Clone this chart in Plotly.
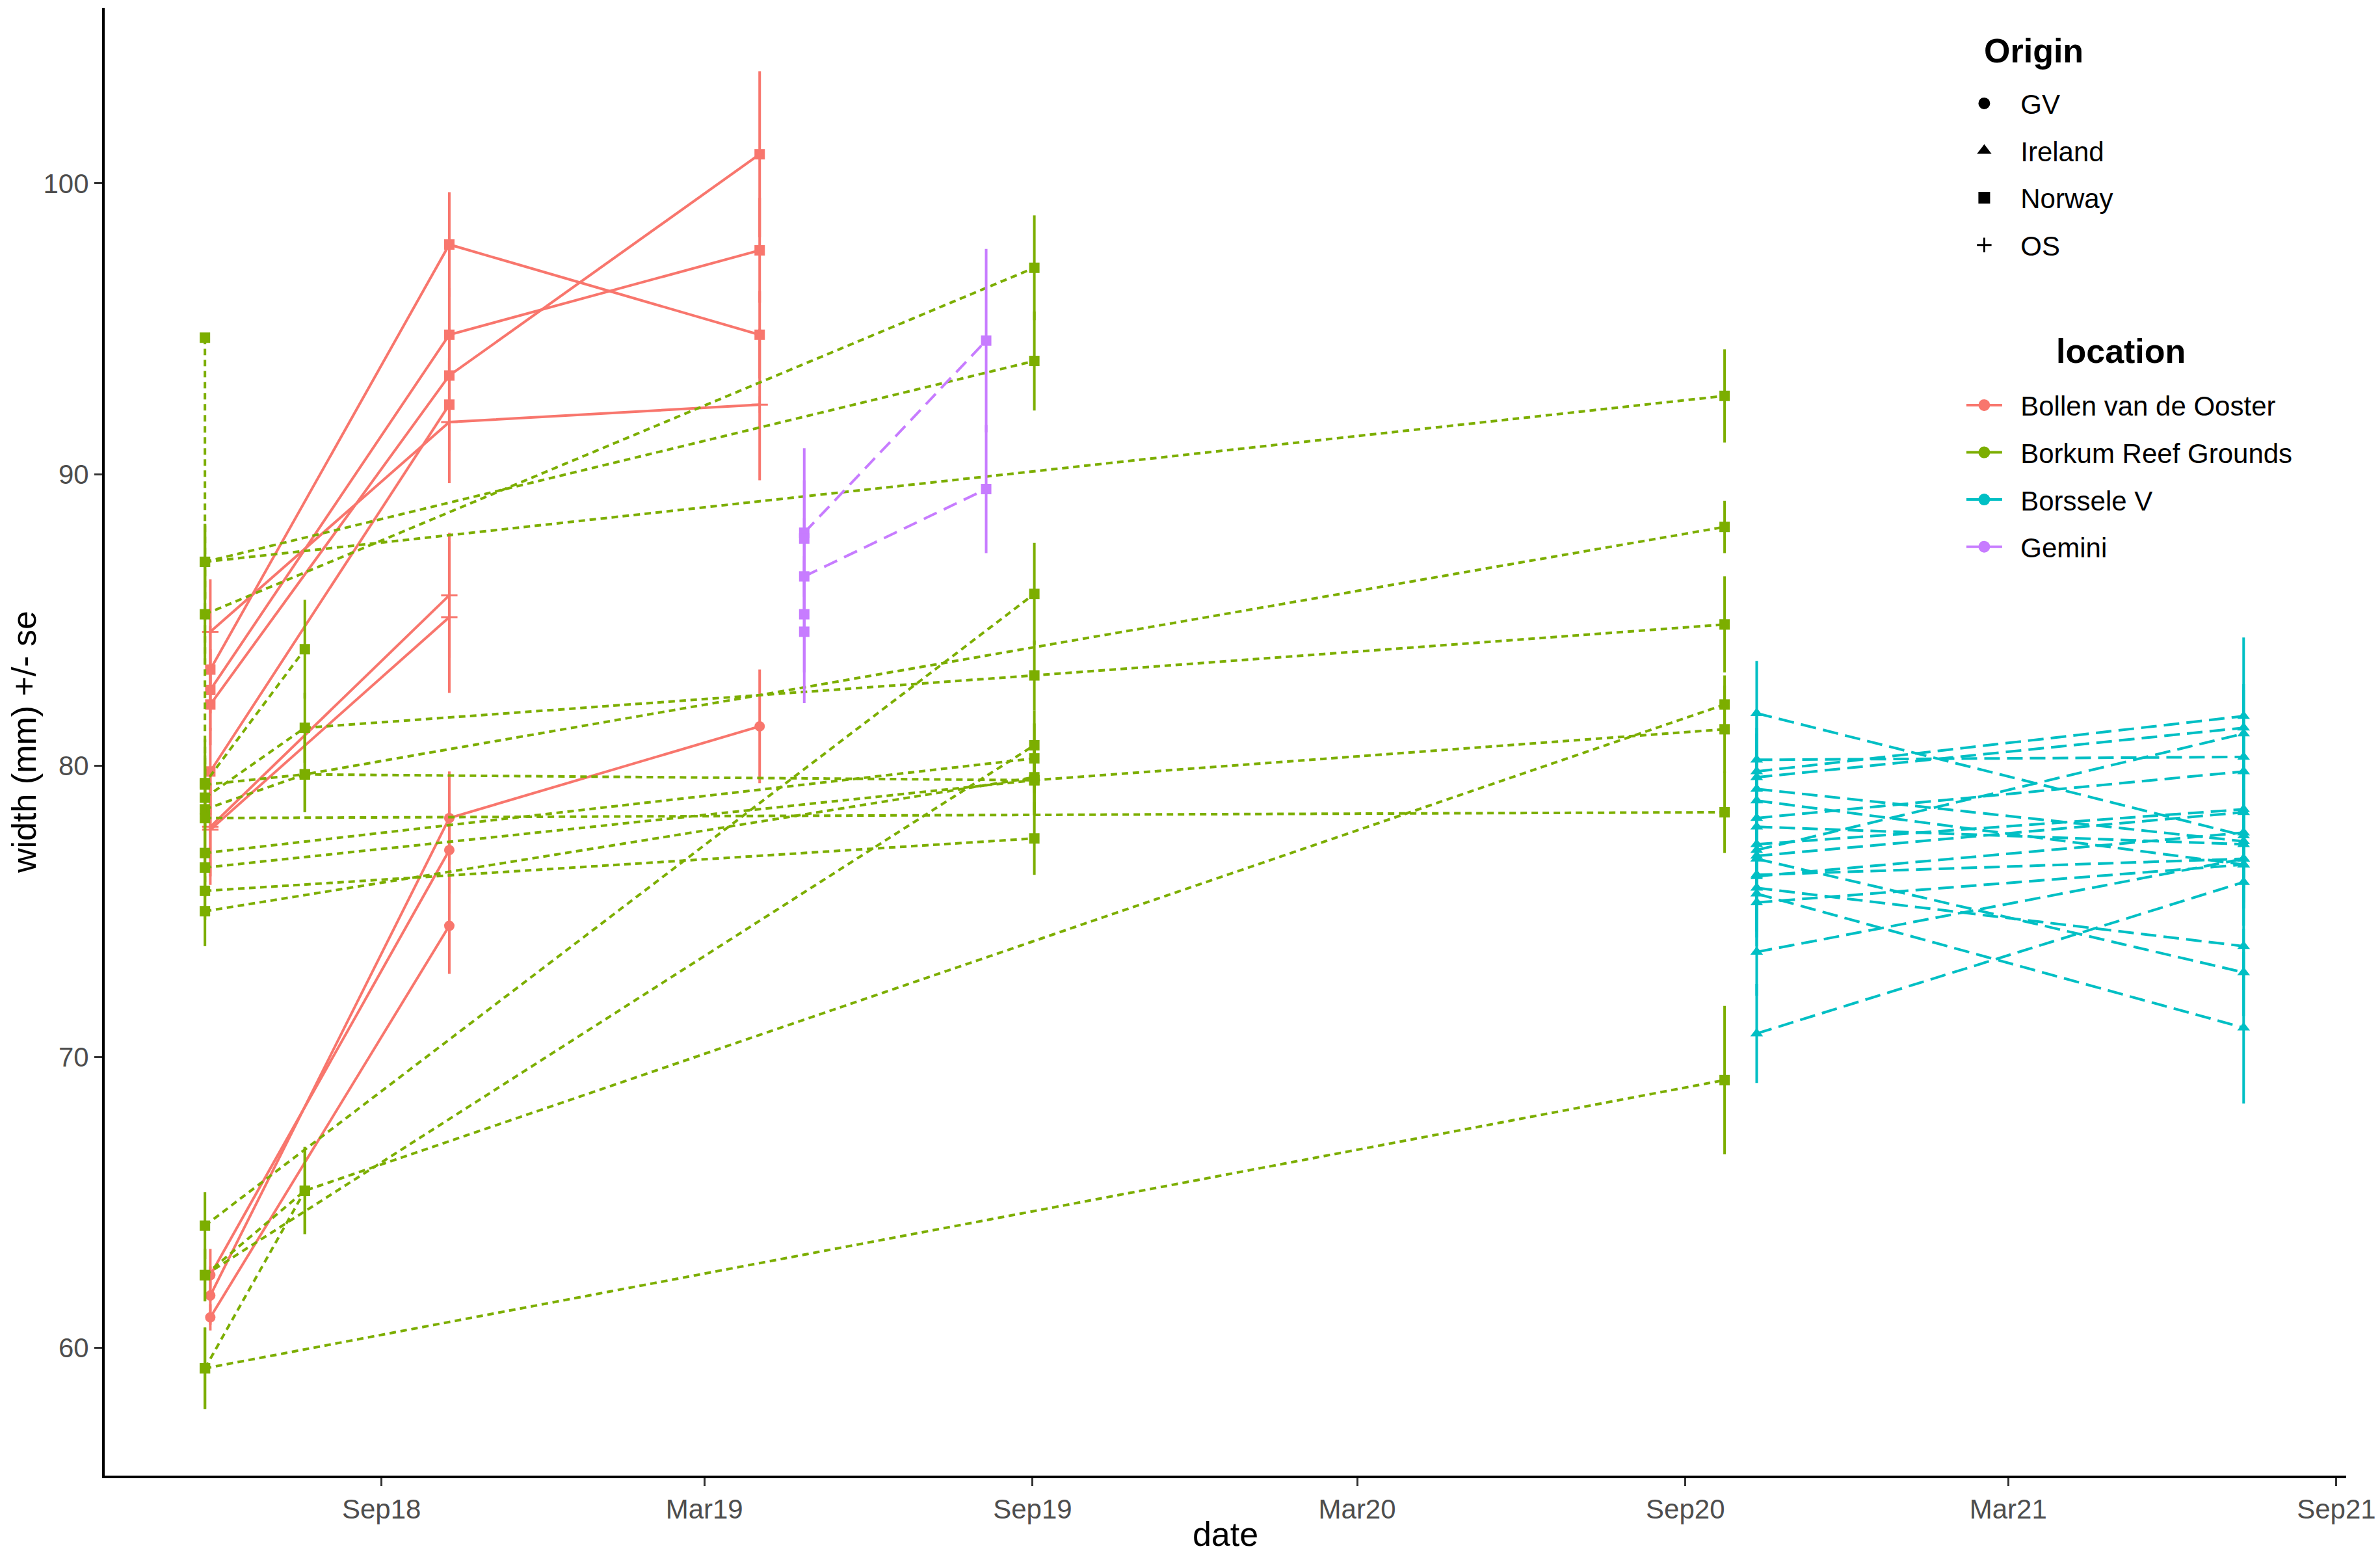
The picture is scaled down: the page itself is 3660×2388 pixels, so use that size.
import plotly.graph_objects as go

# ---------------- data ----------------
LOCATIONS = ["Bollen van de Ooster", "Borkum Reef Grounds", "Borssele V", "Gemini"]
ORIGINS = ["GV", "Ireland", "Norway", "OS"]
X_TICKS = ["2018-09-01", "2019-03-01", "2019-09-01", "2020-03-01", "2020-09-01", "2021-03-01", "2021-09-01"]
Y_TICKS = [60, 70, 80, 90, 100]

# Bollen van de Ooster (long form: one row per measurement)
BOLLEN_ID = [1, 1, 1, 2, 2, 2, 3, 3, 3, 4, 4, 4, 5, 5, 6, 6, 7, 7, 8, 8, 9, 9, 9, 10, 10]
BOLLEN_DATE = ["2018-05-28", "2018-10-09", "2019-04-01",
               "2018-05-28", "2018-10-09", "2019-04-01",
               "2018-05-28", "2018-10-09", "2019-04-01",
               "2018-05-28", "2018-10-09", "2019-04-01",
               "2018-05-28", "2018-10-09",
               "2018-05-28", "2018-10-09",
               "2018-05-28", "2018-10-09",
               "2018-05-28", "2018-10-09",
               "2018-05-28", "2018-10-09", "2019-04-01",
               "2018-05-28", "2018-10-09"]
BOLLEN_WIDTH = [84.6, 91.8, 92.4, 83.3, 97.9, 94.8, 82.6, 94.8, 97.7, 82.1, 93.4, 101.0,
                79.8, 92.4, 77.9, 85.85, 77.8, 85.1, 62.5, 77.1, 61.8, 78.2, 81.35, 61.05, 74.5]
BOLLEN_SE = [1.8, 2.1, 2.6, 1.5, 1.8, 1.5, 1.4, 1.6, 1.8, 1.4, 1.6, 2.85,
             1.5, 1.6, 2.0, 2.15, 1.6, 2.6, 0.9, 1.5, 1.0, 1.6, 1.95, 0.45, 1.65]
BOLLEN_ORIGIN = ["OS", "OS", "OS", "Norway", "Norway", "Norway", "Norway", "Norway", "Norway",
                 "Norway", "Norway", "Norway", "Norway", "Norway", "OS", "OS", "OS", "OS",
                 "GV", "GV", "GV", "GV", "GV", "GV", "GV"]

# Borkum Reef Grounds (all Norway)
BORKUM_ID = [1, 1, 2, 2, 3, 3, 4, 4, 4, 5, 5, 5, 5, 6, 6, 6, 7, 7, 7, 7, 8, 8, 9, 9,
             10, 10, 11, 11, 12, 12, 13, 13, 14, 14, 14, 15, 15, 16, 16, 17, 17]
BORKUM_DATE = ["2018-05-25", "2019-09-02",
               "2018-05-25", "2020-09-23",
               "2018-05-25", "2019-09-02",
               "2018-05-25", "2018-05-25", "2018-07-20",
               "2018-05-25", "2018-07-20", "2019-09-02", "2020-09-23",
               "2018-05-25", "2018-07-20", "2020-09-23",
               "2018-05-25", "2018-07-20", "2019-09-02", "2020-09-23",
               "2018-05-25", "2020-09-23",
               "2018-05-25", "2019-09-02",
               "2018-05-25", "2019-09-02",
               "2018-05-25", "2019-09-02",
               "2018-05-25", "2019-09-02",
               "2018-05-25", "2019-09-02",
               "2018-05-25", "2018-07-20", "2020-09-23",
               "2018-05-25", "2018-07-20",
               "2018-05-25", "2020-09-23",
               "2018-05-25", "2019-09-02"]
BORKUM_WIDTH = [87.0, 93.9, 87.0, 92.7, 85.2, 97.1, 94.7, 79.4, 84.0,
                78.9, 81.3, 83.1, 84.85, 78.5, 79.7, 88.2, 79.35, 79.7, 79.5, 81.25,
                78.2, 78.4, 77.0, 80.25, 76.5, 79.5, 75.7, 77.5, 75.0, 79.6,
                64.2, 85.9, 62.5, 65.4, 82.1, 59.3, 65.4, 59.3, 69.2, 62.5, 80.7]
BORKUM_SE = [1.3, 1.7, 1.3, 1.6, 1.7, 1.8, 0.0, 1.5, 1.7,
             1.0, 1.2, 1.2, 1.65, 1.0, 1.3, 0.9, 1.0, 1.3, 1.2, 1.5,
             1.0, 1.4, 1.0, 1.2, 1.0, 1.2, 1.0, 1.25, 1.2, 1.2,
             1.15, 1.75, 0.9, 1.5, 1.0, 1.4, 1.5, 1.4, 2.55, 0.9, 1.2]

# Borssele V (all Ireland): first and second survey per individual
BORSSELE_DATE_1 = "2020-10-11"
BORSSELE_DATE_2 = "2021-07-11"
BORSSELE_W1 = [81.8, 80.2, 79.8, 79.6, 79.2, 78.8, 78.2, 77.9, 77.3, 77.1,
               76.9, 76.8, 76.25, 76.2, 75.8, 75.6, 75.3, 73.6, 70.8]
BORSSELE_W2 = [77.6, 80.3, 81.7, 81.3, 77.4, 76.6, 79.8, 77.3, 78.5, 81.1,
               78.4, 72.9, 76.8, 77.7, 73.8, 71.0, 76.6, 76.8, 76.0]
BORSSELE_SE1 = [1.8, 1.5, 1.5, 1.5, 1.5, 1.5, 1.5, 1.5, 1.5, 1.5,
                1.5, 1.5, 1.5, 1.5, 1.5, 1.5, 1.5, 1.5, 1.7]
BORSSELE_SE2 = [1.5, 1.5, 2.7, 1.5, 1.5, 1.5, 1.5, 1.5, 1.5, 1.5,
                1.5, 1.5, 1.5, 1.5, 1.5, 2.6, 1.5, 1.5, 1.5]

# Gemini (all Norway)
GEMINI_ID = [1, 1, 2, 2, 3, 4, 5]
GEMINI_DATE = ["2019-04-26", "2019-08-06", "2019-04-26", "2019-08-06",
               "2019-04-26", "2019-04-26", "2019-04-26"]
GEMINI_WIDTH = [88.0, 94.6, 86.5, 89.5, 87.8, 85.2, 84.6]
GEMINI_SE = [2.9, 3.15, 2.0, 2.2, 2.0, 2.0, 2.45]

# ---------------- styling ----------------
COLORS = {"Bollen van de Ooster": "#F8766D", "Borkum Reef Grounds": "#7CAE00",
          "Borssele V": "#00BFC4", "Gemini": "#C77CFF"}
DASH = {"Bollen van de Ooster": "solid", "Borkum Reef Grounds": "10px,7px",
        "Borssele V": "24px,11px", "Gemini": "22px,12px"}
SYMBOL = {"GV": "circle", "Ireland": "triangle-up", "Norway": "square", "OS": "cross-thin"}
MSIZE = {"GV": 16, "Ireland": 17, "Norway": 16, "OS": 18}
FONT = "Liberation Sans, Arial, Helvetica, sans-serif"
LW = 4
PAD = "\u00a0\u00a0"

fig = go.Figure()


def add_group(loc, origin, dates, widths, ses):
    col = COLORS[loc]
    marker = dict(symbol=SYMBOL[origin], size=MSIZE[origin], color=col)
    if origin == "OS":
        marker["line"] = dict(color=col, width=3)
    else:
        marker["line"] = dict(width=0)
    fig.add_trace(go.Scatter(
        x=dates, y=widths, mode="lines+markers",
        line=dict(color=col, width=LW, dash=DASH[loc]),
        marker=marker,
        error_y=dict(type="data", array=ses, symmetric=True, width=0,
                     thickness=LW, color=col),
        showlegend=False, hoverinfo="skip"))


def add_long(loc, ids, dates, widths, ses, origins):
    order = []
    for i in ids:
        if i not in order:
            order.append(i)
    for g in order:
        idx = [k for k, v in enumerate(ids) if v == g]
        add_group(loc, origins[idx[0]],
                  [dates[k] for k in idx], [widths[k] for k in idx], [ses[k] for k in idx])


add_long("Bollen van de Ooster", BOLLEN_ID, BOLLEN_DATE, BOLLEN_WIDTH, BOLLEN_SE, BOLLEN_ORIGIN)
add_long("Borkum Reef Grounds", BORKUM_ID, BORKUM_DATE, BORKUM_WIDTH, BORKUM_SE,
         ["Norway"] * len(BORKUM_ID))
for w1, w2, s1, s2 in zip(BORSSELE_W1, BORSSELE_W2, BORSSELE_SE1, BORSSELE_SE2):
    add_group("Borssele V", "Ireland", [BORSSELE_DATE_1, BORSSELE_DATE_2], [w1, w2], [s1, s2])
add_long("Gemini", GEMINI_ID, GEMINI_DATE, GEMINI_WIDTH, GEMINI_SE, ["Norway"] * len(GEMINI_ID))

# legend: Origin (shape)
for o in ORIGINS:
    mk = dict(symbol=SYMBOL[o], size=MSIZE[o], color="black",
              line=dict(color="black", width=3 if o == "OS" else 2))
    fig.add_trace(go.Scatter(x=[None], y=[None], mode="markers", marker=mk, name=PAD + o,
                             legend="legend", legendgroup="o_" + o, showlegend=True))
# legend: location (colour)
for loc in LOCATIONS:
    fig.add_trace(go.Scatter(x=[None], y=[None], mode="lines+markers", name=PAD + loc,
                             line=dict(color=COLORS[loc], width=LW),
                             marker=dict(symbol="circle", size=16, color=COLORS[loc],
                                         line=dict(color=COLORS[loc], width=2)),
                             legend="legend2", legendgroup="l_" + loc, showlegend=True))

axis_common = dict(showgrid=False, zeroline=False, showline=True, linecolor="black",
                   linewidth=4, ticks="outside", ticklen=12, tickwidth=3, tickcolor="#333333",
                   ticklabeloverflow="allow",
                   tickfont=dict(family=FONT, size=42, color="#4D4D4D"))

legend_common = dict(xanchor="left", yanchor="top", bgcolor="rgba(0,0,0,0)",
                     font=dict(family=FONT, size=42, color="black"),
                     itemsizing="trace", tracegroupgap=15, itemwidth=55)

fig.update_layout(
    width=3652, height=2380,
    margin=dict(l=153, r=52, t=4, b=119, pad=0),
    paper_bgcolor="white", plot_bgcolor="white",
    font=dict(family=FONT, color="black"),
    xaxis=dict(type="date", range=["2018-03-29 19:00", "2021-09-06 12:00"],
               tickvals=X_TICKS, tickformat="%b%y",
               title=dict(text="date", font=dict(family=FONT, size=52, color="black"), standoff=38),
               automargin=False, **axis_common),
    yaxis=dict(range=[55.615, 106.03], tickvals=Y_TICKS,
               title=dict(text="width (mm) +/- se", font=dict(family=FONT, size=52, color="black"),
                          standoff=12),
               automargin=False, **axis_common),
    legend=dict(x=0.8291, y=0.9499, **legend_common),
    legend2=dict(x=0.8291, y=0.7443, **legend_common),
    annotations=[
        dict(text="<b>Origin</b>", xref="paper", yref="paper", x=0.8607, y=0.9708,
             xanchor="center", yanchor="middle", showarrow=False,
             font=dict(family=FONT, size=52, color="black")),
        dict(text="<b>location</b>", xref="paper", yref="paper", x=0.8996, y=0.7661,
             xanchor="center", yanchor="middle", showarrow=False,
             font=dict(family=FONT, size=52, color="black")),
    ],
)

fig.write_html("out.html")
